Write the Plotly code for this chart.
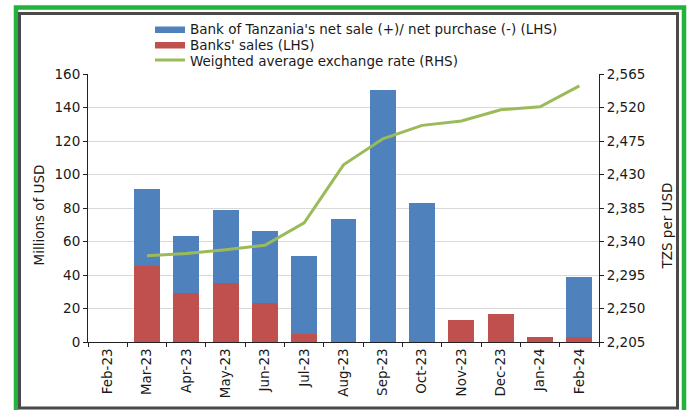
import plotly.graph_objects as go

# ---- data ----
months = ["Feb-23", "Mar-23", "Apr-23", "May-23", "Jun-23", "Jul-23", "Aug-23",
          "Sep-23", "Oct-23", "Nov-23", "Dec-23", "Jan-24", "Feb-24"]
banks_sales = [None, 45.5, 29.0, 35.0, 23.5, 4.5, None, None, None, 13.0, 16.7, 3.2, 3.2]
bot_net_sale = [None, 46.0, 34.5, 44.0, 42.5, 47.0, 73.2, 150.4, 82.8, None, None, None, 35.6]
exchange_rate = [None, 2321, 2324, 2329, 2335, 2365, 2443, 2478, 2496, 2502, 2517, 2521, 2549]

left_ticks = list(range(0, 161, 20))
right_ticks = list(range(2205, 2566, 45))

name_bot = "Bank of Tanzania's net sale (+)/ net purchase (-) (LHS)"
name_banks = "Banks' sales (LHS)"
name_rate = "Weighted average exchange rate (RHS)"

BLUE = "#4F81BD"
RED = "#C0504D"
GREEN = "#9BBB59"
FONT = "DejaVu Sans"

W, H = 689, 410
L, R, T, B = 88, 90, 74, 68
PW, PH = W - L - R, H - T - B


def px(xp):
    return (xp - L) / PW


def py(yp):
    return (H - B - yp) / PH


fig = go.Figure()
fig.add_trace(go.Bar(x=months, y=banks_sales, name=name_banks, marker_color=RED,
                     marker_line_width=0, yaxis="y"))
fig.add_trace(go.Bar(x=months, y=bot_net_sale, name=name_bot, marker_color=BLUE,
                     marker_line_width=0, yaxis="y"))
fig.add_trace(go.Scatter(x=months, y=exchange_rate, name=name_rate, mode="lines",
                         line=dict(color=GREEN, width=3), yaxis="y2"))

shapes = []
# outer green frame and inner dark frame
shapes.append(dict(type="rect", xref="paper", yref="paper",
                   x0=px(16), x1=px(684), y0=py(7.5), y1=py(420),
                   line=dict(color="#22B33C", width=4.5), layer="above"))
shapes.append(dict(type="rect", xref="paper", yref="paper",
                   x0=px(19.5), x1=px(677.5), y0=py(13.5), y1=py(408),
                   line=dict(color="#4A4A4A", width=3), layer="above"))
# manual legend swatches
shapes.append(dict(type="rect", xref="paper", yref="paper",
                   x0=px(155), x1=px(185), y0=py(26.5), y1=py(33),
                   fillcolor=BLUE, line=dict(width=0)))
shapes.append(dict(type="rect", xref="paper", yref="paper",
                   x0=px(155), x1=px(185), y0=py(42), y1=py(48.5),
                   fillcolor=RED, line=dict(width=0)))
shapes.append(dict(type="line", xref="paper", yref="paper",
                   x0=px(155), x1=px(185), y0=py(60), y1=py(60),
                   line=dict(color=GREEN, width=3)))

annotations = []
for label, yc in [(name_bot, 29.5), (name_banks, 45), (name_rate, 60.5)]:
    annotations.append(dict(text=label, xref="paper", yref="paper", x=px(189), y=py(yc),
                            xanchor="left", yanchor="middle", showarrow=False,
                            borderpad=0,
                            font=dict(family=FONT, size=13.5, color="#1a1a1a")))
annotations.append(dict(text="Millions of USD", xref="paper", yref="paper",
                        x=px(38), y=py(215.5), textangle=-90, showarrow=False,
                        xanchor="center", yanchor="middle",
                        font=dict(family=FONT, size=13.5, color="#1a1a1a")))
annotations.append(dict(text="TZS per USD", xref="paper", yref="paper",
                        x=px(666), y=py(226.5), textangle=-90, showarrow=False,
                        xanchor="center", yanchor="middle",
                        font=dict(family=FONT, size=13.5, color="#1a1a1a")))

fig.update_layout(
    width=W, height=H,
    margin=dict(l=L, r=R, t=T, b=B, pad=0, autoexpand=False),
    paper_bgcolor="white", plot_bgcolor="white",
    barmode="stack", bargap=0.34,
    showlegend=False,
    hovermode=False,
    font=dict(family=FONT, size=13.5, color="#1a1a1a"),
    xaxis=dict(type="category", tickangle=-90, ticks="outside", tickson="boundaries",
               ticklen=4, tickcolor="#222", showline=True, linecolor="#222", linewidth=1,
               showgrid=False, automargin=False, tickfont=dict(family=FONT, size=13.5)),
    yaxis=dict(range=[0, 160], tickvals=left_ticks, ticks="outside", ticklen=4,
               tickcolor="#222", showline=True, linecolor="#222", linewidth=1,
               showgrid=True, gridcolor="#D9D9D9", gridwidth=1, zeroline=False,
               automargin=False, tickfont=dict(family=FONT, size=13.5)),
    yaxis2=dict(range=[2205, 2565], tickvals=right_ticks, tickformat=",d",
                overlaying="y", side="right", ticks="outside", ticklen=4,
                tickcolor="#222", showline=True, linecolor="#222", linewidth=1,
                showgrid=False, zeroline=False, automargin=False,
                tickfont=dict(family=FONT, size=13.5)),
    shapes=shapes,
    annotations=annotations,
)

# remove the browser's default 8px page margin so the figure sits at the window origin
fig.write_html("out.html",
               config={"displayModeBar": False, "staticPlot": True},
               post_script="document.body.style.margin='0';document.body.style.overflow='hidden';")
